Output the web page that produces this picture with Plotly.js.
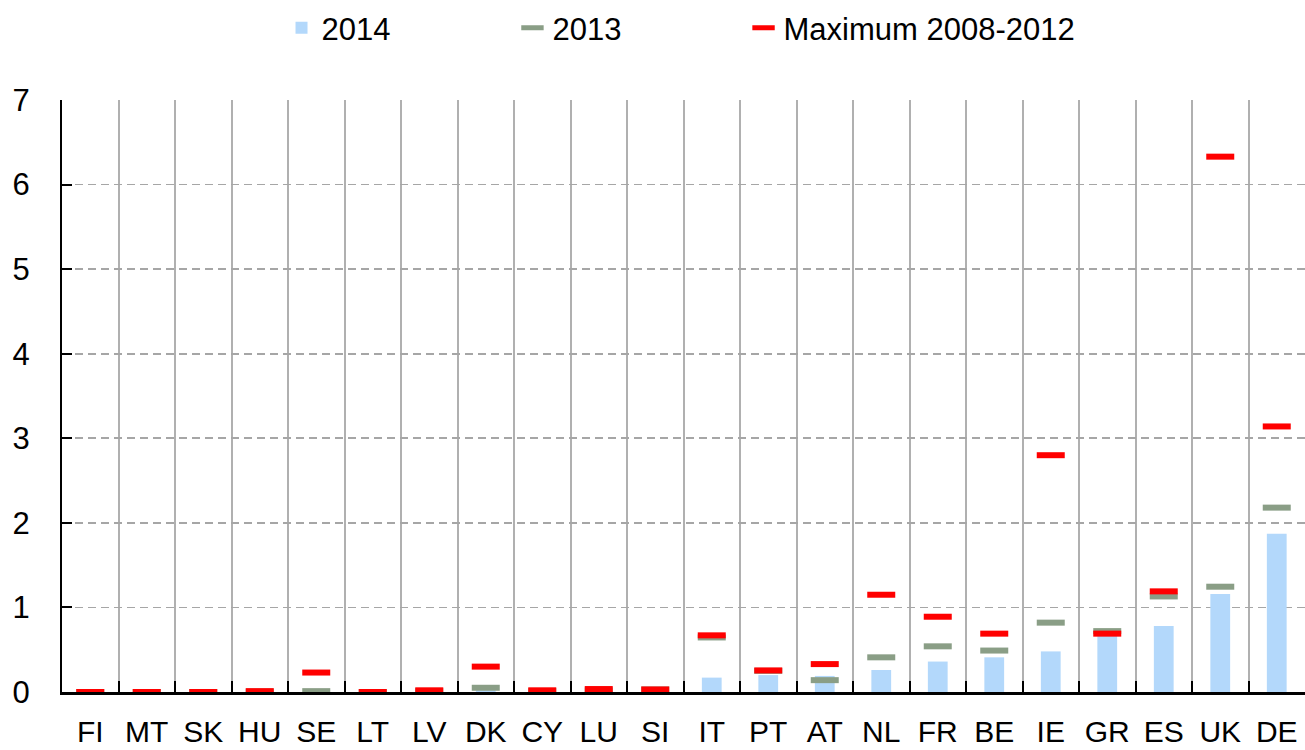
<!DOCTYPE html>
<html>
<head>
<meta charset="utf-8">
<script src="https://cdn.plot.ly/plotly-3.0.1.min.js"></script>
<style>html,body{margin:0;padding:0;background:#fff;}#chart{width:1305px;height:750px;}</style>
</head>
<body>
<div id="chart"></div>
<script>
const countries = ["FI","MT","SK","HU","SE","LT","LV","DK","CY","LU","SI","IT","PT","AT","NL","FR","BE","IE","GR","ES","UK","DE"];
const values2014 = [0,0,0,0,0,0,0,0.02,0,0.01,0.01,0.17,0.2,0.19,0.26,0.36,0.41,0.48,0.665,0.78,1.16,1.87];
const values2013 = [0,0,0,0.005,0.01,0,0.01,0.05,0.01,0.02,0.03,0.645,0.25,0.14,0.41,0.54,0.49,0.82,0.72,1.13,1.245,2.18];
const valuesMax = [0,0,0,0.01,0.23,0,0.02,0.3,0.02,0.035,0.03,0.67,0.255,0.33,1.15,0.89,0.69,2.8,0.69,1.19,6.33,3.14];
const yTicks = [0,1,2,3,4,5,6,7];

const font = "Liberation Sans, Arial, sans-serif";

const traces = [
  {type:"bar", name:"2014", x:countries, y:values2014, marker:{color:"#B3D8FB"}, width:0.35, legend:"legend"},
  {type:"scatter", mode:"markers", name:"2013", x:countries, y:values2013, legend:"legend2",
   marker:{symbol:"line-ew", size:20, color:"#8A9E86", line:{color:"#8A9E86", width:6}}},
  {type:"scatter", mode:"markers", name:"Maximum 2008-2012", x:countries, y:valuesMax, legend:"legend3",
   marker:{symbol:"line-ew", size:20, color:"#FF0000", line:{color:"#FF0000", width:6}}}
];

const legendBase = {orientation:"h", xanchor:"left", y:1.1216, yanchor:"middle", font:{size:31}, itemclick:false, bgcolor:"rgba(0,0,0,0)"};

const layout = {
  width:1305, height:750,
  margin:{l:62, r:0, t:100, b:58},
  paper_bgcolor:"#fff", plot_bgcolor:"#fff",
  font:{family:font, size:31, color:"#000"},
  showlegend:true,
  legend:Object.assign({}, legendBase, {x:0.1766}),
  legend2:Object.assign({}, legendBase, {x:0.3624}),
  legend3:Object.assign({}, legendBase, {x:0.5483}),
  bargap:0.65,
  xaxis:{type:"category", tickson:"boundaries", showgrid:true, gridcolor:"#B0B0B0", gridwidth:2,
         ticks:"inside", ticklen:11, tickwidth:2, tickcolor:"#000",
         showline:true, linecolor:"#000", linewidth:2.5, ticklabelstandoff:11,
         tickfont:{size:30}, range:[-0.5,21.5]},
  yaxis:{range:[0,7], tickvals:yTicks, showgrid:true, gridcolor:"#A6A6A6", gridwidth:1.8, griddash:"8px,5px",
         ticks:"inside", ticklen:10, tickwidth:2, tickcolor:"#000",
         showline:true, linecolor:"#000", linewidth:2, zeroline:false,
         ticklabelstandoff:24, tickfont:{size:31}}
};

Plotly.newPlot("chart", traces, layout, {displayModeBar:false, staticPlot:true});
</script>
</body>
</html>
